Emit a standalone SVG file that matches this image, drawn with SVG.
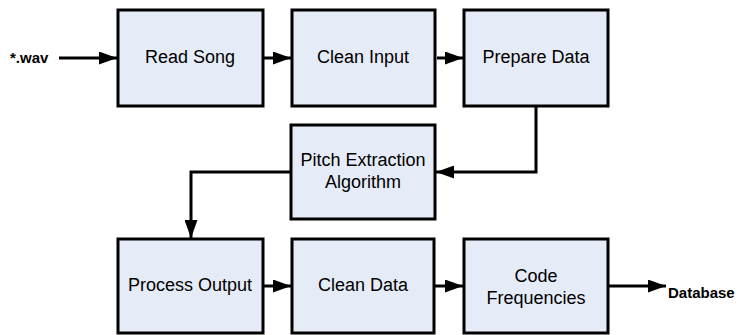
<svg xmlns="http://www.w3.org/2000/svg" width="740" height="335" viewBox="0 0 740 335">
  <defs>
    <marker id="arrow" viewBox="0 0 18 13" refX="18" refY="6.5" markerWidth="18" markerHeight="13" markerUnits="userSpaceOnUse" orient="auto">
      <path d="M0,0 L18,6.5 L0,13 Z" fill="#000"/>
    </marker>
    <style>
      .box { fill: #E6ECF7; stroke: #000; stroke-width: 3; }
      .label { font-family: "Liberation Sans", Arial, sans-serif; font-size: 18px; fill: #000; text-anchor: middle; dominant-baseline: central; }
      .io { font-family: "Liberation Sans", Arial, sans-serif; font-size: 15px; font-weight: bold; fill: #000; dominant-baseline: central; }
      .wire { fill: none; stroke: #000; stroke-width: 3; marker-end: url(#arrow); }
    </style>
  </defs>
  <rect width="740" height="335" fill="#fff"/>

  <g id="connectors">
    <path class="wire" d="M59,58 H117"/>
    <path class="wire" d="M264,58 H291"/>
    <path class="wire" d="M437,58 H463"/>
    <path class="wire" d="M536,106 V172 H436"/>
    <path class="wire" d="M290,172 H191 V238"/>
    <path class="wire" d="M264,286 H291"/>
    <path class="wire" d="M435,286 H463"/>
    <path class="wire" d="M609,286 H666"/>
  </g>

  <g id="input-wav">
    <text class="io" x="10" y="57">*.wav</text>
  </g>

  <g id="read-song">
    <rect class="box" x="118" y="10" width="145" height="96"/>
    <text class="label" x="190" y="57">Read Song</text>
  </g>

  <g id="clean-input">
    <rect class="box" x="292" y="10" width="143" height="96"/>
    <text class="label" x="363" y="57">Clean Input</text>
  </g>

  <g id="prepare-data">
    <rect class="box" x="464" y="10" width="144" height="96"/>
    <text class="label" x="536" y="57">Prepare Data</text>
  </g>

  <g id="pitch-extraction">
    <rect class="box" x="291" y="125" width="144" height="94"/>
    <text class="label" x="363" y="160">Pitch Extraction</text>
    <text class="label" x="363" y="182">Algorithm</text>
  </g>

  <g id="process-output">
    <rect class="box" x="118" y="239" width="145" height="94"/>
    <text class="label" x="190" y="285">Process Output</text>
  </g>

  <g id="clean-data">
    <rect class="box" x="292" y="239" width="142" height="94"/>
    <text class="label" x="363" y="285">Clean Data</text>
  </g>

  <g id="code-frequencies">
    <rect class="box" x="464" y="239" width="144" height="94"/>
    <text class="label" x="536" y="276">Code</text>
    <text class="label" x="536" y="298">Frequencies</text>
  </g>

  <g id="output-database">
    <text class="io" x="668" y="292">Database</text>
  </g>
</svg>
